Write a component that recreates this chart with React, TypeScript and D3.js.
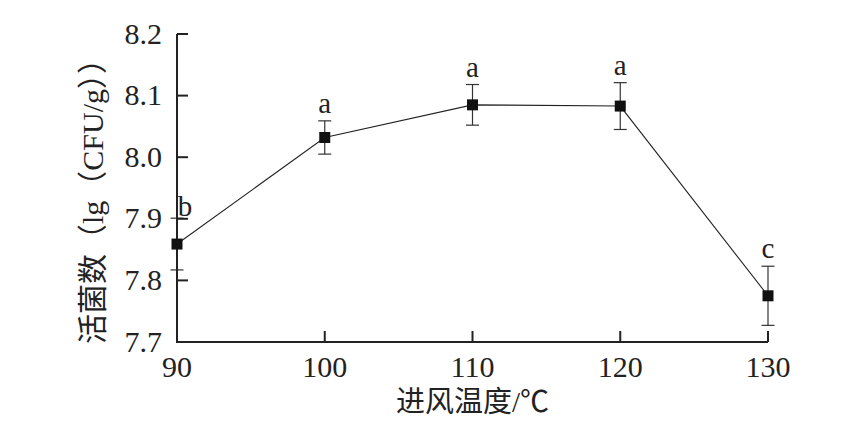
import * as d3 from 'd3';

const temps = [90, 100, 110, 120, 130];
const counts = [7.859, 8.032, 8.085, 8.083, 7.775];
const errors = [0.042, 0.027, 0.033, 0.038, 0.048];
const letters = ['b', 'a', 'a', 'a', 'c'];
const xTicks = [90, 100, 110, 120, 130];
const yTicks = [7.7, 7.8, 7.9, 8.0, 8.1, 8.2];

const W = 852;
const H = 439;
const margin = { left: 177, right: 84, top: 34, bottom: 97 };
const serif = '"Liberation Serif", "DejaVu Serif", serif';
const mixed = '"Liberation Serif", "Noto Sans CJK SC", serif';

export default function App() {
  const x = d3.scaleLinear().domain([90, 130]).range([margin.left, W - margin.right]);
  const y = d3.scaleLinear().domain([7.7, 8.2]).range([H - margin.bottom, margin.top]);
  const line = d3.line<number>()
    .x((_, i) => x(temps[i]))
    .y(d => y(d));
  const x0 = x(90);
  const y0 = y(7.7);

  return (
    <svg width={W} height={H} style={{ position: 'absolute', left: 0, top: 0, background: '#fff' }}>
      <path d={line(counts) ?? ''} fill="none" stroke="#222" strokeWidth={1.1} />

      {/* error bars */}
      {counts.map((v, i) => {
        const cx = x(temps[i]);
        const top = y(v + errors[i]);
        const bot = y(v - errors[i]);
        return (
          <g key={'e' + i} stroke="#333" strokeWidth={1.2}>
            <line x1={cx} x2={cx} y1={top} y2={bot} />
            <line x1={cx - 6.5} x2={cx + 6.5} y1={top} y2={top} />
            <line x1={cx - 6.5} x2={cx + 6.5} y1={bot} y2={bot} />
          </g>
        );
      })}

      {/* axes */}
      <g stroke="#222" strokeWidth={2} fill="none">
        <path d={`M${x0},${y(8.2)}V${y0}H${x(130)}`} />
        {yTicks.slice(1).map(t => (
          <line key={'yt' + t} x1={x0} x2={x0 + 11} y1={y(t)} y2={y(t)} />
        ))}
        {xTicks.slice(1).map(t => (
          <line key={'xt' + t} x1={x(t)} x2={x(t)} y1={y0} y2={y0 - 11} />
        ))}
      </g>

      {/* markers */}
      {counts.map((v, i) => (
        <rect key={'m' + i} x={x(temps[i]) - 5.5} y={y(v) - 5.5} width={11} height={11} fill="#111" />
      ))}

      {/* significance letters */}
      {counts.map((v, i) => {
        const first = i === 0;
        return (
          <text
            key={'l' + i}
            x={x(temps[i]) + (first ? 8 : 0)}
            y={y(v + errors[i]) - (first ? 2 : 8)}
            textAnchor="middle"
            fontFamily={serif}
            fontSize={29}
            fill="#222"
          >
            {letters[i]}
          </text>
        );
      })}

      {/* tick labels */}
      {yTicks.map(t => (
        <text key={'yl' + t} x={x0 - 15} y={y(t)} dy="0.32em" textAnchor="end"
          fontFamily={serif} fontSize={30} fill="#222">
          {d3.format('.1f')(t)}
        </text>
      ))}
      {xTicks.map(t => (
        <text key={'xl' + t} x={x(t)} y={y0 + 35} textAnchor="middle"
          fontFamily={serif} fontSize={30} fill="#222">
          {t}
        </text>
      ))}

      {/* axis titles */}
      <text x={(x0 + x(130)) / 2} y={412} textAnchor="middle" fontFamily={mixed} fontSize={29} fill="#222">
        进风温度/℃
      </text>
      <text
        transform={`translate(103,194) rotate(-90)`}
        textAnchor="middle"
        fontFamily={mixed}
        fontSize={30}
        fill="#222"
      >
        活菌数（lg（CFU/g））
      </text>
    </svg>
  );
}
